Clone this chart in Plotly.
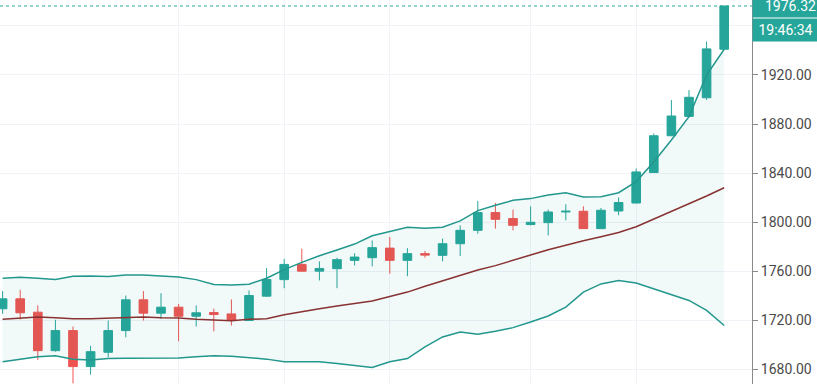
import plotly.graph_objects as go

# ---- data ----
idx = list(range(42))
opens = [1729.2, 1737.3, 1726.4, 1695.0, 1711.4, 1682.0, 1693.7, 1711.4, 1736.5, 1725.6,
         1730.5, 1723.1, 1726.1, 1725.0, 1719.6, 1739.5, 1753.0, 1765.4, 1759.9, 1761.9,
         1768.7, 1770.9, 1778.7, 1768.7, 1774.2, 1772.8, 1782.3, 1793.2, 1807.7, 1802.8,
         1797.9, 1799.5, 1808.2, 1808.8, 1794.6, 1809.0, 1815.5, 1840.4, 1870.4, 1886.2,
         1901.4, 1941.0]
highs = [1743.6, 1744.7, 1731.9, 1720.2, 1714.7, 1698.9, 1719.6, 1740.0, 1743.6, 1741.9,
         1733.2, 1731.9, 1729.2, 1736.8, 1744.1, 1762.4, 1770.0, 1778.2, 1767.9, 1770.9,
         1774.6, 1785.0, 1787.7, 1778.7, 1776.3, 1786.4, 1797.3, 1817.2, 1815.5, 1810.1,
         1812.8, 1810.1, 1814.5, 1812.8, 1811.5, 1820.0, 1843.7, 1872.3, 1899.6, 1907.7,
         1947.2, 1976.32]
lows = [1725.1, 1720.4, 1687.4, 1694.2, 1668.3, 1675.4, 1689.6, 1705.9, 1719.6, 1721.0,
        1702.7, 1714.7, 1710.8, 1715.5, 1719.2, 1739.0, 1746.0, 1759.5, 1752.3, 1746.0,
        1764.6, 1763.8, 1757.8, 1755.8, 1770.9, 1767.9, 1772.2, 1790.5, 1794.6, 1793.2,
        1797.3, 1789.1, 1801.4, 1794.3, 1794.3, 1805.5, 1815.2, 1840.1, 1870.1, 1885.9,
        1899.6, 1940.7]
closes = [1737.3, 1725.9, 1695.0, 1711.4, 1682.0, 1694.2, 1711.4, 1736.5, 1725.6, 1730.5,
          1723.1, 1725.9, 1724.5, 1719.6, 1740.0, 1753.1, 1765.4, 1759.9, 1762.1, 1769.3,
          1771.4, 1779.1, 1768.7, 1774.2, 1773.0, 1782.3, 1793.2, 1807.7, 1802.2, 1797.3,
          1799.8, 1808.2, 1808.8, 1794.6, 1809.6, 1815.9, 1840.9, 1870.4, 1886.5, 1901.8,
          1941.3, 1976.32]

bb_upper = [1754.2, 1755.0, 1754.2, 1753.0, 1755.8, 1756.0, 1755.5, 1756.8, 1756.8, 1755.7,
            1755.2, 1753.0, 1749.0, 1748.5, 1749.3, 1754.1, 1761.2, 1767.1, 1772.5, 1777.1,
            1782.0, 1788.8, 1792.0, 1795.8, 1795.0, 1795.8, 1800.9, 1809.3, 1813.7, 1817.7,
            1819.1, 1822.0, 1823.9, 1820.4, 1820.7, 1823.9, 1833.0, 1849.0, 1867.0, 1886.0,
            1920.0, 1941.0]
bb_basis = [1720.6, 1721.7, 1722.5, 1721.9, 1721.1, 1721.1, 1721.7, 1722.5, 1722.5, 1721.9,
            1721.7, 1720.6, 1719.8, 1719.5, 1720.6, 1721.1, 1724.4, 1726.5, 1729.2, 1731.4,
            1733.3, 1735.5, 1739.2, 1742.8, 1747.6, 1752.2, 1756.8, 1760.9, 1764.4, 1768.5,
            1773.1, 1777.4, 1781.2, 1784.7, 1788.0, 1791.5, 1796.1, 1802.3, 1808.2, 1815.0,
            1821.2, 1828.0]
bb_lower = [1685.9, 1688.1, 1690.0, 1690.8, 1688.1, 1687.3, 1688.6, 1688.8, 1688.8, 1688.8,
            1689.0, 1690.0, 1690.8, 1690.5, 1689.2, 1688.1, 1685.9, 1685.9, 1685.9, 1684.6,
            1683.2, 1681.3, 1685.9, 1688.6, 1698.1, 1706.2, 1710.3, 1708.4, 1710.8, 1713.8,
            1718.4, 1723.3, 1730.6, 1742.8, 1749.5, 1752.2, 1750.3, 1745.5, 1740.6, 1736.0,
            1727.9, 1715.5]

y_ticks = [1680, 1720, 1760, 1800, 1840, 1880, 1920, 1960]
# the 1960 label is covered by the countdown tag in the reference
y_ticktext = ["1680.00", "1720.00", "1760.00", "1800.00", "1840.00", "1880.00", "1920.00", ""]
x_grid = [10, 16, 22, 30, 36]
last_price = closes[-1]
countdown = "19:46:34"

UP = "#26a69a"
DOWN = "#ef5350"
BAND = "#22978d"
BASIS = "#883232"
FONT = "Roboto"

fig = go.Figure()

fig.add_trace(go.Scatter(x=idx, y=bb_upper, mode="lines",
                         line=dict(color=BAND, width=1.5), hoverinfo="skip"))
fig.add_trace(go.Scatter(x=idx, y=bb_lower, mode="lines", fill="tonexty",
                         fillcolor="rgba(38,150,154,0.06)",
                         line=dict(color=BAND, width=1.5), hoverinfo="skip"))
fig.add_trace(go.Scatter(x=idx, y=bb_basis, mode="lines",
                         line=dict(color=BASIS, width=1.5), hoverinfo="skip"))

fig.add_trace(go.Candlestick(
    x=idx, open=opens, high=highs, low=lows, close=closes,
    increasing=dict(line=dict(color=UP, width=1), fillcolor=UP),
    decreasing=dict(line=dict(color=DOWN, width=1), fillcolor=DOWN),
    whiskerwidth=0, hoverinfo="skip"))

fig.add_shape(type="line", xref="paper", x0=0, x1=1, yref="y",
              y0=last_price, y1=last_price,
              line=dict(color=UP, width=1, dash="dot"))

fig.add_annotation(xref="paper", x=1, xanchor="left", yref="y", y=last_price,
                   yanchor="middle", text=f"{last_price:.2f}", showarrow=False,
                   bgcolor=UP, font=dict(color="white", size=14, family=FONT),
                   width=69, borderpad=3, align="center")
fig.add_annotation(xref="paper", x=1, xanchor="left", yref="y", y=last_price,
                   yanchor="middle", yshift=-24, text=countdown, showarrow=False,
                   bgcolor=UP, font=dict(color="white", size=14, family=FONT),
                   width=59, borderpad=3, align="center")

fig.update_layout(
    width=817, height=384,
    margin=dict(l=0, r=65, t=0, b=0),
    paper_bgcolor="white", plot_bgcolor="white",
    showlegend=False,
    font=dict(family=FONT, size=14, color="#4a4a4a"),
    xaxis=dict(range=[-0.148, 42.58], rangeslider=dict(visible=False),
               showticklabels=False, tickvals=x_grid, showgrid=True,
               gridcolor="#f0f3f7", gridwidth=1, zeroline=False, showline=False,
               ticks=""),
    yaxis=dict(side="right", range=[1667.8, 1981.2], tickvals=y_ticks,
               ticktext=y_ticktext, showgrid=True, gridcolor="#f0f3f7",
               zeroline=False, showline=True, linecolor="#8a8a8a", linewidth=1,
               ticks="outside", ticklen=5, tickcolor="#8a8a8a",
               tickfont=dict(family=FONT, size=14, color="#4a4a4a")),
    hovermode=False,
)

fig.write_html("out.html", config={"displayModeBar": False},
               post_script="document.body.style.margin='0';document.body.style.overflow='hidden';")
